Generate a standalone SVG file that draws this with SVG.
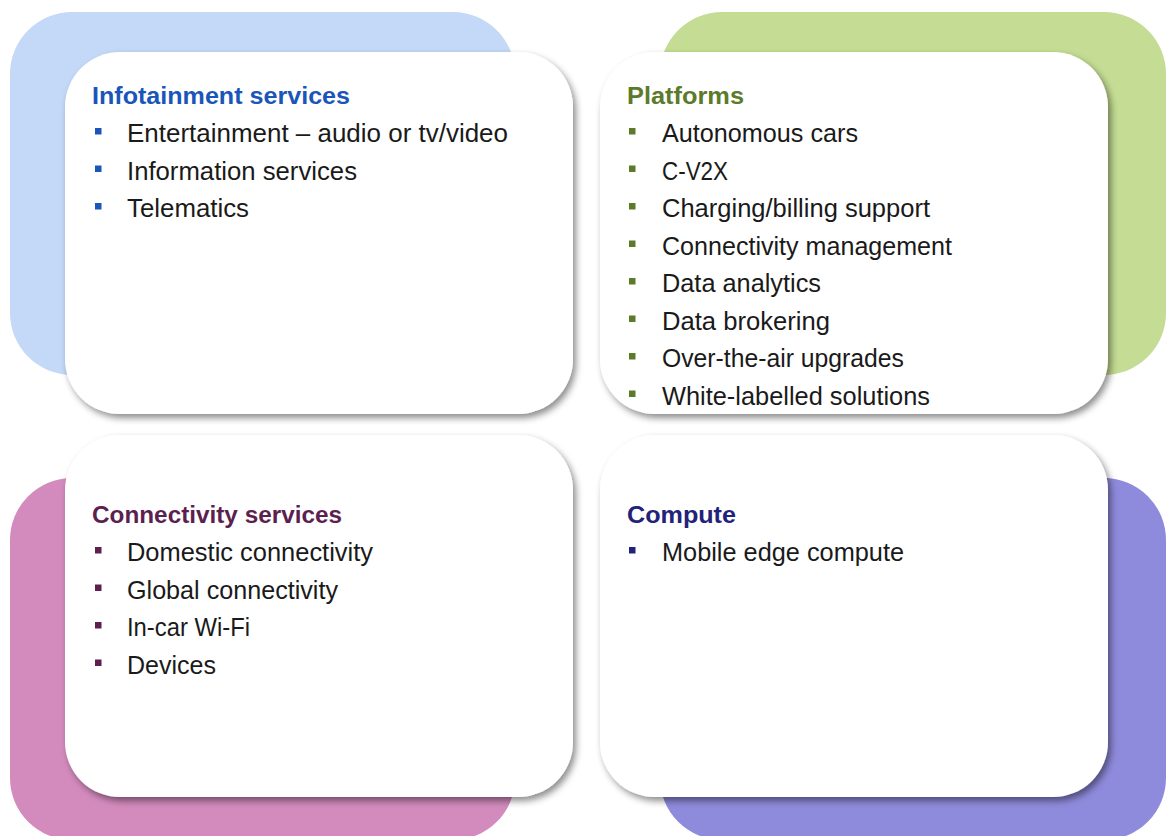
<svg xmlns="http://www.w3.org/2000/svg" width="1166" height="836" viewBox="0 0 1166 836">
<defs>
<filter id="sh" x="-10%" y="-10%" width="125%" height="125%">
<feDropShadow dx="3" dy="4" stdDeviation="3.5" flood-color="#000" flood-opacity="0.45"/>
</filter>
<style>
.card{fill:#ffffff;filter:url(#sh)}
.t{font-family:"Liberation Sans",Arial,sans-serif;font-weight:bold;font-size:23px}
.i{font-family:"Liberation Sans",Arial,sans-serif;font-size:25px;fill:#1a1a1a}
</style>
</defs>
<rect width="1166" height="836" fill="#ffffff"/>

<g id="infotainment">
<rect x="10" y="12" width="505" height="363" rx="62" fill="#c3d9f7"/>
<rect class="card" x="65" y="52" width="508" height="362" rx="55"/>
<text class="t" x="92" y="104" fill="#1a56b8" textLength="258" lengthAdjust="spacingAndGlyphs">Infotainment services</text>
<g fill="#1a56b8">
<rect x="95" y="128" width="6.5" height="6.5"/>
<rect x="95" y="165.5" width="6.5" height="6.5"/>
<rect x="95" y="203" width="6.5" height="6.5"/>
</g>
<text class="i" x="127" y="142" textLength="381" lengthAdjust="spacingAndGlyphs">Entertainment – audio or tv/video</text>
<text class="i" x="127" y="179.5" textLength="230" lengthAdjust="spacingAndGlyphs">Information services</text>
<text class="i" x="127" y="217" textLength="122" lengthAdjust="spacingAndGlyphs">Telematics</text>
</g>

<g id="platforms">
<rect x="660" y="12" width="506" height="363" rx="62" fill="#c4dc93"/>
<rect class="card" x="600" y="52" width="508" height="362" rx="55"/>
<text class="t" x="627" y="104" fill="#5b7b2a" textLength="117" lengthAdjust="spacingAndGlyphs">Platforms</text>
<g fill="#5b7b2a">
<rect x="629" y="128" width="6.5" height="6.5"/>
<rect x="629" y="165.5" width="6.5" height="6.5"/>
<rect x="629" y="203" width="6.5" height="6.5"/>
<rect x="629" y="240.5" width="6.5" height="6.5"/>
<rect x="629" y="278" width="6.5" height="6.5"/>
<rect x="629" y="315.5" width="6.5" height="6.5"/>
<rect x="629" y="353" width="6.5" height="6.5"/>
<rect x="629" y="390.5" width="6.5" height="6.5"/>
</g>
<text class="i" x="662" y="142" textLength="196" lengthAdjust="spacingAndGlyphs">Autonomous cars</text>
<text class="i" x="662" y="179.5" textLength="66" lengthAdjust="spacingAndGlyphs">C-V2X</text>
<text class="i" x="662" y="217" textLength="268" lengthAdjust="spacingAndGlyphs">Charging/billing support</text>
<text class="i" x="662" y="254.5" textLength="290" lengthAdjust="spacingAndGlyphs">Connectivity management</text>
<text class="i" x="662" y="292" textLength="159" lengthAdjust="spacingAndGlyphs">Data analytics</text>
<text class="i" x="662" y="329.5" textLength="168" lengthAdjust="spacingAndGlyphs">Data brokering</text>
<text class="i" x="662" y="367" textLength="242" lengthAdjust="spacingAndGlyphs">Over-the-air upgrades</text>
<text class="i" x="662" y="404.5" textLength="268" lengthAdjust="spacingAndGlyphs">White-labelled solutions</text>
</g>

<g id="connectivity">
<rect x="10" y="478" width="505" height="362" rx="62" fill="#d38bbd"/>
<rect class="card" x="65" y="435" width="508" height="362" rx="55"/>
<text class="t" x="92" y="523" fill="#5c1f4f" textLength="250" lengthAdjust="spacingAndGlyphs">Connectivity services</text>
<g fill="#5c1f4f">
<rect x="95" y="547" width="6.5" height="6.5"/>
<rect x="95" y="584.5" width="6.5" height="6.5"/>
<rect x="95" y="622" width="6.5" height="6.5"/>
<rect x="95" y="659.5" width="6.5" height="6.5"/>
</g>
<text class="i" x="127" y="561" textLength="246" lengthAdjust="spacingAndGlyphs">Domestic connectivity</text>
<text class="i" x="127" y="598.5" textLength="211" lengthAdjust="spacingAndGlyphs">Global connectivity</text>
<text class="i" x="127" y="636" textLength="123" lengthAdjust="spacingAndGlyphs">In-car Wi-Fi</text>
<text class="i" x="127" y="673.5" textLength="89" lengthAdjust="spacingAndGlyphs">Devices</text>
</g>

<g id="compute">
<rect x="660" y="478" width="506" height="362" rx="62" fill="#8f8bdc"/>
<rect class="card" x="600" y="435" width="508" height="362" rx="55"/>
<text class="t" x="627" y="523" fill="#22227a" textLength="109" lengthAdjust="spacingAndGlyphs">Compute</text>
<rect x="629" y="547" width="6.5" height="6.5" fill="#22227a"/>
<text class="i" x="662" y="561" textLength="242" lengthAdjust="spacingAndGlyphs">Mobile edge compute</text>
</g>

<g id="connectors"/>
</svg>
